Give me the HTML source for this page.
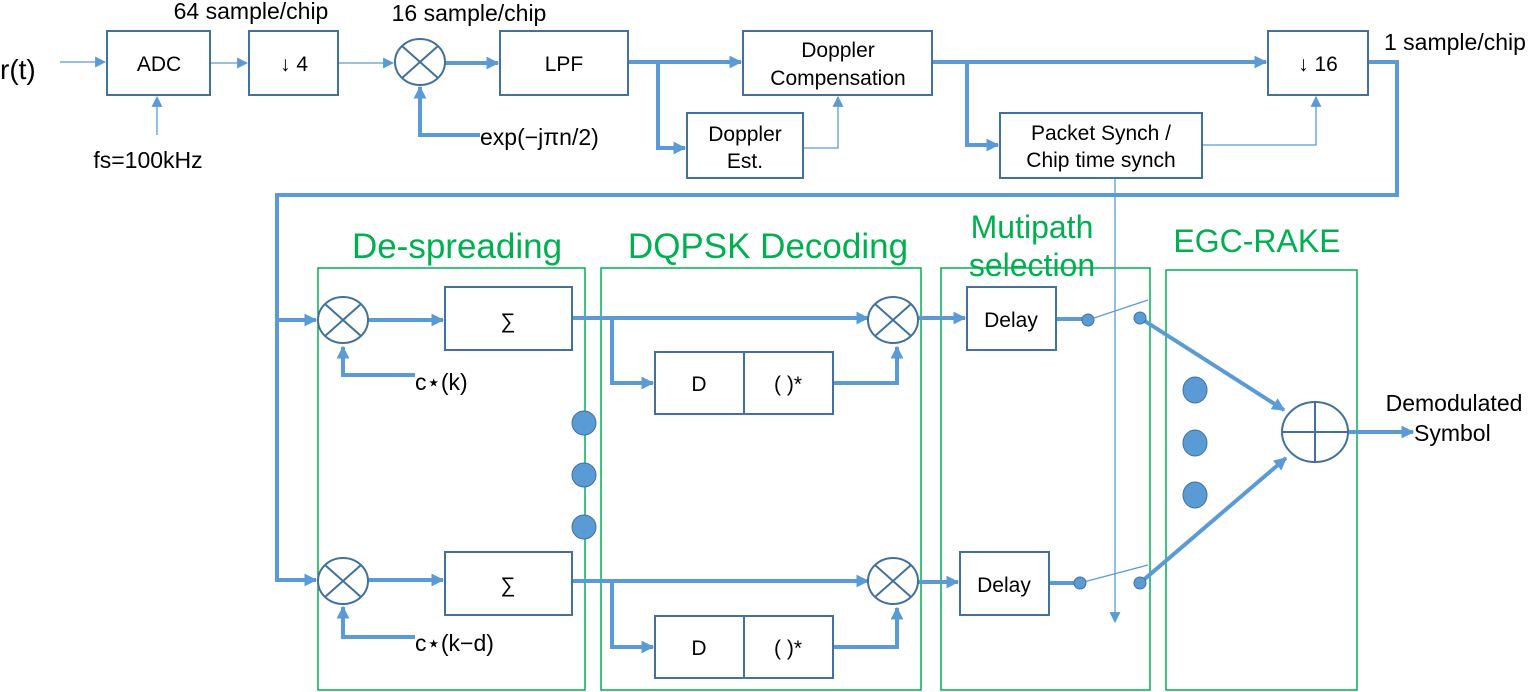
<!DOCTYPE html>
<html><head><meta charset="utf-8"><style>body{margin:0;background:#fff}svg{display:block}text{font-family:"Liberation Sans","DejaVu Sans",sans-serif;fill:#000}</style></head><body>
<svg width="1534" height="692" viewBox="0 0 1534 692" xmlns="http://www.w3.org/2000/svg">
<defs>
<marker id="t" viewBox="0 0 10 10" refX="9" refY="5" markerWidth="13" markerHeight="13" orient="auto" markerUnits="userSpaceOnUse"><path d="M0,0L10,5L0,10z" fill="#5b9bd5"/></marker>
<marker id="s" viewBox="0 0 10 10" refX="9" refY="5" markerWidth="11" markerHeight="11" orient="auto" markerUnits="userSpaceOnUse"><path d="M0,0L10,5L0,10z" fill="#5b9bd5"/></marker>
</defs>
<g fill="none" stroke="#00b050" stroke-width="1.5">
<rect x="318" y="268" width="267" height="422"/><rect x="601" y="268" width="320" height="422"/><rect x="941" y="268" width="209" height="422"/><rect x="1166" y="270" width="191" height="420"/>
</g>
<g text-anchor="middle">
<text x="457" y="258" style="fill:#00b050;font-size:35px">De-spreading</text>
<text x="768" y="258" style="fill:#00b050;font-size:35px">DQPSK Decoding</text>
<text x="1032" y="238" style="fill:#00b050;font-size:32px">Mutipath</text>
<text x="1032" y="276" style="fill:#00b050;font-size:32px">selection</text>
<text x="1257" y="252" style="fill:#00b050;font-size:32px">EGC-RAKE</text>
</g>
<g fill="none" stroke="#5b9bd5" stroke-width="1.3">
<path d="M60,62H105" marker-end="url(#s)"/>
<path d="M210,63H247" marker-end="url(#s)"/>
<path d="M157,135V97" marker-end="url(#s)"/>
<path d="M338,63H393" marker-end="url(#s)"/>
<path d="M803,148H838V97" marker-end="url(#s)"/>
<path d="M1202,145H1316V97" marker-end="url(#s)"/>
<path d="M1115,178V622" marker-end="url(#s)"/>
<path d="M1088,320L1148,300M1080,583L1148,565"/>
</g>
<g fill="none" stroke="#5b9bd5" stroke-width="4">
<path d="M445,63H498" marker-end="url(#t)"/>
<path d="M480,135H420V87" marker-end="url(#t)"/>
<path d="M628,62H741" marker-end="url(#t)"/>
<path d="M658,62V148H685" marker-end="url(#t)"/>
<path d="M932,62H1266" marker-end="url(#t)"/>
<path d="M967,62V145H998" marker-end="url(#t)"/>
<path d="M1368,62H1397V195H277V580H316" marker-end="url(#t)"/>
<path d="M277,320H316" marker-end="url(#t)"/>
<path d="M368,320H443" marker-end="url(#t)"/>
<path d="M368,580H443" marker-end="url(#t)"/>
<path d="M415,375H343V347" marker-end="url(#t)"/>
<path d="M415,637H343V607" marker-end="url(#t)"/>
<path d="M572,318H868" marker-end="url(#t)"/>
<path d="M612,318V383H653" marker-end="url(#t)"/>
<path d="M833,383H897V347" marker-end="url(#t)"/>
<path d="M572,581H868" marker-end="url(#t)"/>
<path d="M612,581V647H653" marker-end="url(#t)"/>
<path d="M833,647H897V608" marker-end="url(#t)"/>
<path d="M918,318H965" marker-end="url(#t)"/>
<path d="M918,582H958" marker-end="url(#t)"/>
<path d="M1056,319H1088M1049,583H1080"/>
<path d="M1140,318L1284,410" marker-end="url(#t)"/>
<path d="M1140,583L1286,458" marker-end="url(#t)"/>
<path d="M1347,432H1413" marker-end="url(#t)"/>
</g>
<g fill="#5b9bd5" stroke="#41719c" stroke-width="1">
<circle cx="1088" cy="320" r="6"/><circle cx="1140" cy="318" r="6"/><circle cx="1080" cy="583" r="6"/><circle cx="1140" cy="583" r="6"/>
<ellipse cx="584" cy="423" rx="12" ry="12"/><ellipse cx="584" cy="475" rx="12" ry="12"/><ellipse cx="584" cy="527" rx="12" ry="12"/>
<ellipse cx="1195" cy="390" rx="12" ry="13"/><ellipse cx="1195" cy="443" rx="12" ry="13"/><ellipse cx="1195" cy="495" rx="12" ry="13"/>
</g>
<g fill="#fff" stroke="#41719c" stroke-width="2">
<rect x="107" y="31" width="103" height="64"/><rect x="249" y="31" width="89" height="64"/>
<rect x="500" y="31" width="128" height="64"/><rect x="743" y="31" width="189" height="64"/>
<rect x="687" y="113" width="116" height="65"/><rect x="1000" y="113" width="202" height="65"/>
<rect x="1268" y="31" width="100" height="64"/>
<rect x="445" y="287" width="127" height="63"/><rect x="445" y="552" width="127" height="63"/>
<rect x="655" y="352" width="89" height="62"/><rect x="744" y="352" width="89" height="62"/>
<rect x="655" y="616" width="89" height="62"/><rect x="744" y="616" width="89" height="62"/>
<rect x="967" y="287" width="89" height="63"/><rect x="960" y="552" width="89" height="63"/>
<ellipse cx="420" cy="62" rx="25" ry="23"/><ellipse cx="343" cy="320" rx="25" ry="23"/><ellipse cx="343" cy="581" rx="25" ry="23"/>
<ellipse cx="893" cy="320" rx="25" ry="23"/><ellipse cx="893" cy="581" rx="25" ry="23"/>
<ellipse cx="1315" cy="432" rx="33" ry="30"/>
</g>
<g stroke="#41719c" stroke-width="2">
<path d="M402,46L438,78M438,46L402,78"/>
<path d="M325,304L361,336M361,304L325,336"/>
<path d="M325,565L361,597M361,565L325,597"/>
<path d="M875,304L911,336M911,304L875,336"/>
<path d="M875,565L911,597M911,565L875,597"/>
<path d="M1282,432H1348M1315,402V462"/>
</g>
<g style="font-size:21px" text-anchor="middle">
<text x="159" y="71">ADC</text><text x="294" y="71">↓ 4</text><text x="564" y="71">LPF</text>
<text x="838" y="57">Doppler</text><text x="838" y="85">Compensation</text>
<text x="745" y="141">Doppler</text><text x="745" y="168">Est.</text>
<text x="1101" y="140">Packet Synch /</text><text x="1101" y="167">Chip time synch</text>
<text x="1318" y="71">↓ 16</text>
<text x="508" y="328">∑</text><text x="508" y="592">∑</text>
<text x="699" y="391">D</text><text x="788" y="391">(  )*</text>
<text x="699" y="655">D</text><text x="788" y="655">(  )*</text>
<text x="1011" y="327">Delay</text><text x="1004" y="592">Delay</text>
</g>
<g style="font-size:23px" text-anchor="middle">
<text x="251" y="19">64 sample/chip</text><text x="469" y="21">16 sample/chip</text>
<text x="148" y="168">fs=100kHz</text>
<text x="1454" y="411">Demodulated</text>
</g>
<g style="font-size:23px">
<text x="1384" y="50">1 sample/chip</text>
<text x="480" y="145">exp(−jπn/2)</text>
<text x="415" y="390">c⋆(k)</text><text x="415" y="651">c⋆(k−d)</text>
<text x="1414" y="441">Symbol</text>
<text x="0" y="79" style="font-size:28px">r(t)</text>
</g>
</svg>
</body></html>
